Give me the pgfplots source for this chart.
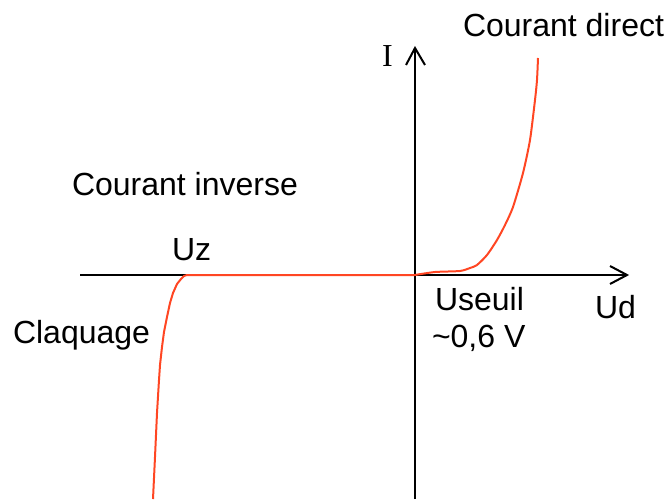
\documentclass[border=0pt]{standalone}
\usepackage{pgfplots}
\pgfplotsset{compat=1.18}
\usepackage{fontspec}
\setmainfont{Liberation Sans}
\newfontfamily\seriffont{Liberation Serif}
\definecolor{diode}{RGB}{255,70,35}
\tikzset{lbl/.style={inner sep=0pt, outer sep=0pt, anchor=base west,
    font=\fontsize{16bp}{19bp}\selectfont}}

% coordinates: 1 unit = 1 px of the reference, origin at the axes crossing
\begin{document}
\begin{tikzpicture}
  \begin{axis}[
      width=335bp, height=249.5bp,
      scale only axis,
      xmin=-415, xmax=255,
      ymin=-224, ymax=275,
      hide axis,
      clip=false,
    ]
    \path (axis cs:-415,-224) rectangle (axis cs:255,275);
    % axes with open arrow heads
    \draw[black, line width=1bp] (axis cs:-335,0) -- (axis cs:212,0);
    \draw[black, line width=1bp] (axis cs:195,9) -- (axis cs:212,0) -- (axis cs:195,-9);
    \draw[black, line width=1bp] (axis cs:0,-224) -- (axis cs:0,227);
    \draw[black, line width=1bp] (axis cs:-9,210) -- (axis cs:0,227) -- (axis cs:10,210);

    % forward characteristic
    \addplot[diode, line width=1bp, smooth, tension=0.4] coordinates {
      (0,0) (20,3) (45,4) (55,7) (62,10) (72,20) (82,35) (90,50)
      (98,68) (108,102) (115,135) (120,175) (122,195) (123,217)
    };
    % reverse characteristic and breakdown
    \addplot[diode, line width=1bp] coordinates {
      (0,0) (-228,0) (-231,-1) (-234,-4) (-238,-9) (-242,-18)
      (-245,-28) (-248,-42) (-251,-57) (-253,-72) (-255,-90)
      (-256,-105) (-258,-138) (-260,-182) (-262,-224)
    };

    \node[lbl] at (axis cs:48,238) {Courant direct};
    \node[lbl, font=\fontsize{16bp}{19bp}\seriffont] at (axis cs:-33,208) {I};
    \node[lbl] at (axis cs:-343,80) {Courant inverse};
    \node[lbl] at (axis cs:-243,15) {Uz};
    \node[lbl] at (axis cs:-402,-68) {Claquage};
    \node[lbl] at (axis cs:20,-35) {Useuil};
    \node[lbl] at (axis cs:17,-72) {\textasciitilde 0,6 V};
    \node[lbl] at (axis cs:180,-43) {Ud};
  \end{axis}
\end{tikzpicture}
\end{document}
